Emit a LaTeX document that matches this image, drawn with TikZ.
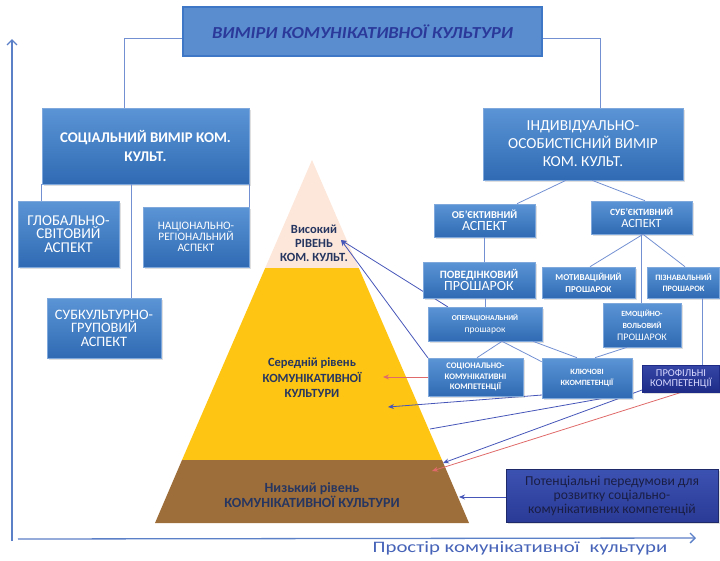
\documentclass[tikz,border=0pt]{standalone}
\usepackage{fontspec}
\setmainfont{Carlito}
\newfontfamily\axfont[FakeStretch=1.3]{Carlito}
\newfontfamily\ttlfont[FakeStretch=1.1]{Carlito}
\usetikzlibrary{arrows.meta,shadows}
\definecolor{bxtop}{HTML}{5B95D6}
\definecolor{bxbot}{HTML}{2F6AB3}
\definecolor{bxline}{HTML}{7FA8DD}
\definecolor{ttlfill}{HTML}{5A8DD0}
\definecolor{ttlline}{HTML}{3E77C6}
\definecolor{ttltext}{HTML}{2B3A9A}
\definecolor{connc}{HTML}{7390D2}
\definecolor{arrb}{HTML}{4656B8}
\definecolor{arrr}{HTML}{E06A6A}
\definecolor{peach}{HTML}{FCE7DA}
\definecolor{pyel}{HTML}{FEC513}
\definecolor{pbrown}{HTML}{9E6E3A}
\definecolor{ptext}{HTML}{263660}
\definecolor{axisc}{HTML}{5C80C8}
\definecolor{axtext}{HTML}{4663B8}
\definecolor{proftop}{HTML}{3546A6}
\definecolor{profbot}{HTML}{1E2C88}
\definecolor{pottop}{HTML}{3C52B2}
\definecolor{potbot}{HTML}{2A3A96}
\definecolor{pottext}{HTML}{1A1E44}
\tikzset{
  bx/.style={draw=bxline, line width=0.6pt, top color=bxtop, bottom color=bxbot,
    text=white, align=center, inner sep=1pt,
    drop shadow={opacity=0.25, shadow xshift=1.5pt, shadow yshift=-1.5pt}},
  ttl/.style={draw=ttlline, line width=1.6pt, fill=ttlfill, text=ttltext, align=center},
  prf/.style={bx, draw=profbot, top color=proftop, bottom color=profbot, text=white!85!blue},
  pt/.style={bx, draw=potbot!70!black, top color=pottop, bottom color=potbot, text=pottext},
  lvl/.style={text=ptext, align=center, inner sep=0pt, font=\bfseries},
  conn/.style={draw=connc, line width=0.8pt},
  arrB/.style={draw=arrb, line width=0.8pt, -{Stealth[length=6pt,width=5pt]}},
  arrR/.style={draw=arrr, line width=0.8pt, -{Stealth[length=6pt,width=5pt]}},
  plainB/.style={draw=arrb, line width=0.8pt},
  axisline/.style={draw=axisc, line width=1.3pt, -{Straight Barb[length=5pt,width=10pt]}},
}
\newcommand{\fs}[2]{\fontsize{#1}{#2}\selectfont}
\begin{document}
\begin{tikzpicture}[x=1pt,y=-1pt]
\useasboundingbox (0,0) rectangle (720,560);

% pyramid
\fill[peach] (312,160) -- (358.8,268) -- (265.2,268) -- cycle;
\fill[pyel] (265.2,268) -- (358.8,268) -- (442,460) -- (182,460) -- cycle;
\fill[pbrown] (182,460) -- (442,460) -- (469,523) -- (155,523) -- cycle;

\node[lvl, font=\bfseries\fs{12.5}{14}] (hi) at (314,243) {Високий\\РІВЕНЬ\\КОМ. КУЛЬТ.};
\node[lvl, font=\bfseries\fs{12.5}{15.5}] (mid) at (312,378) {Середній рівень\\КОМУНІКАТИВНОЇ\\КУЛЬТУРИ};
\node[lvl, font=\bfseries\fs{14}{15.5}] (low) at (312,495) {Низький рівень\\КОМУНІКАТИВНОЇ КУЛЬТУРИ};

% axes
\coordinate (yo) at (12,541);
\coordinate (ye) at (12,39);
\coordinate (xo) at (18,539);
\coordinate (xe) at (696,538);
\draw[axisline] (yo) -- (ye);
\draw[axisline] (xo) -- (xe);
\node[text=axtext, font=\axfont\fs{16}{18}, inner sep=0pt] (axlab) at (520,548.5) {Простір комунікативної\,\, культури};

\node[ttl, minimum width=359pt, minimum height=49pt, font=\ttlfont\bfseries\itshape\fs{16.8}{18}] (title) at (362.5,31.5) {ВИМІРИ КОМУНІКАТИВНОЇ КУЛЬТУРИ};

% arrow targets
\coordinate (hiTip) at (341,240);
\coordinate (midR) at (383,377);
\coordinate (midB) at (388,407);
\coordinate (edgeK) at (430,429);
\coordinate (lowB) at (443,463);
\coordinate (lowR) at (432,471);
\coordinate (lowP) at (459,497);

% boxes
\node[bx, minimum width=207pt, minimum height=76pt, font=\bfseries\fs{14.8}{19}] (soc) at (145.5,146) {СОЦІАЛЬНИЙ ВИМІР КОМ.\\КУЛЬТ.};
\node[bx, minimum width=200pt, minimum height=72pt, font=\fs{15.3}{18}] (ind) at (583,144) {ІНДИВІДУАЛЬНО-\\ОСОБИСТІСНИЙ ВИМІР\\КОМ. КУЛЬТ.};

\draw[conn] ([yshift=-6.5pt]title.west) -| ([xshift=-21.5pt]soc.north);
\draw[conn] ([yshift=-6.5pt]title.east) -| ([xshift=17pt]ind.north);

% lines from small boxes to pyramid (under boxes)
\coordinate (operA) at (448,307);
\coordinate (soccNW) at (428,358);
\coordinate (soccW) at (428,377);
\coordinate (keyW) at (542,395);
\coordinate (keyS) at (605,398);
\coordinate (profW) at (642,390);
\coordinate (profS) at (695,388);
\draw[arrB] (operA) -- (hiTip);
\draw[arrB] (soccNW) -- (hiTip);
\draw[arrR] (soccW) -- (midR);
\draw[arrB] (keyW) -- (midB);
\draw[plainB] (keyS) -- (edgeK);
\draw[arrB] (profW) -- (lowB);
\draw[arrR] (profS) -- (lowR);

\node[bx, minimum width=101pt, minimum height=66pt, font=\fs{15}{13.5}] (glob) at (68.5,234) {ГЛОБАЛЬНО-\\СВІТОВИЙ\\АСПЕКТ};
\node[bx, minimum width=106pt, minimum height=60pt, font=\fs{11.4}{11}] (nat) at (196,237) {НАЦІОНАЛЬНО-\\РЕГІОНАЛЬНИЙ\\АСПЕКТ};
\node[bx, minimum width=114pt, minimum height=60pt, font=\fs{14.4}{13.5}] (sub) at (104,328) {СУБКУЛЬТУРНО-\\ГРУПОВИЙ\\АСПЕКТ};

\draw[conn] (soc.south west) -- (soc.south west |- glob.north);
\draw[conn] ([xshift=-14.5pt]soc.south) -- ([xshift=-14.5pt]soc.south |- sub.north);
\draw[conn] (soc.south east) -- (soc.south east |- nat.north);

\node[bx, minimum width=101pt, minimum height=33pt] (obj) at (484.5,220.5) {{\bfseries\fs{10.5}{11}ОБ’ЄКТИВНИЙ}\\{\fs{14}{13}АСПЕКТ}};
\node[bx, minimum width=101pt, minimum height=33pt] (subj) at (641.5,217.5) {{\bfseries\fs{9.5}{11}СУБ’ЄКТИВНИЙ}\\{\fs{12.5}{13}АСПЕКТ}};
\draw[conn] ([xshift=-17pt]ind.south) -- ([xshift=32.5pt]obj.north);
\draw[conn] ([xshift=9pt]ind.south) -- ([xshift=3.5pt]subj.north);

\node[bx, minimum width=112pt, minimum height=36pt] (pov) at (479,280) {{\bfseries\fs{11.2}{12}ПОВЕДІНКОВИЙ}\\{\fs{14}{15}ПРОШАРОК}};
\node[bx, minimum width=93pt, minimum height=31pt, font=\bfseries\fs{9}{12}] (mot) at (588.5,282.5) {МОТИВАЦІЙНИЙ\\ПРОШАРОК};
\node[bx, minimum width=72pt, minimum height=31pt, font=\bfseries\fs{8.2}{11}] (piz) at (683.5,282.5) {ПІЗНАВАЛЬНИЙ\\ПРОШАРОК};
\draw[conn] (obj.south) -- (obj.south |- pov.north);
\draw[conn] ([xshift=1.5pt]subj.south) -- ([xshift=1.5pt]mot.north);
\draw[conn] ([xshift=1.5pt]subj.south) -- ([xshift=1.5pt]piz.north);

\node[bx, minimum width=114pt, minimum height=34pt] (oper) at (485,324) {{\bfseries\fs{7.5}{10}ОПЕРАЦІОНАЛЬНИЙ}\\{\fs{9.5}{11}прошарок}};
\node[bx, minimum width=78pt, minimum height=44pt] (emo) at (642,325) {{\bfseries\fs{7.9}{11}ЕМОЦІЙНО-}\\{\bfseries\fs{7.9}{11}ВОЛЬОВИЙ}\\{\fs{10}{12}ПРОШАРОК}};
\draw[conn] (oper.north) -- (oper.north |- pov.south);
\draw[conn] (subj.south) -- (subj.south |- emo.north);

\node[bx, minimum width=95pt, minimum height=38pt, font=\bfseries\fs{8.5}{10.5}] (socc) at (475.5,377) {СОЦІОНАЛЬНО-\\КОМУНІКАТИВНІ\\КОМПЕТЕНЦІЇ};
\node[bx, minimum width=90pt, minimum height=40pt, font=\bfseries\fs{8}{11}] (key) at (587,378) {КЛЮЧОВІ\\ККОМПЕТЕНЦІЇ};
\node[prf, minimum width=77pt, minimum height=27pt, font=\fs{10.5}{10}] (prof) at (681,378.5) {ПРОФІЛЬНІ\\КОМПЕТЕНЦІЇ};

\draw[conn] ([xshift=17pt]oper.south) -- ([xshift=1.5pt]socc.north);
\draw[conn] ([xshift=17pt]oper.south) -- ([yshift=-4pt]key.north west);
\draw[conn] ([xshift=48pt]oper.south) -- ([xshift=-10pt]key.north);
\draw[conn] ([xshift=-15pt]emo.south) -- ([xshift=8pt]key.north);
\draw[conn] ([xshift=18.5pt]piz.south) -- ([xshift=18.5pt]piz.south |- prof.north);

\node[pt, minimum width=212pt, minimum height=53pt, font=\fs{13.6}{14}] (pot) at (612,495.5) {Потенціальні передумови для\\розвитку соціально-\\комунікативних компетенцій};
\draw[arrB] (pot.west |- lowP) -- (lowP);
\end{tikzpicture}
\end{document}
